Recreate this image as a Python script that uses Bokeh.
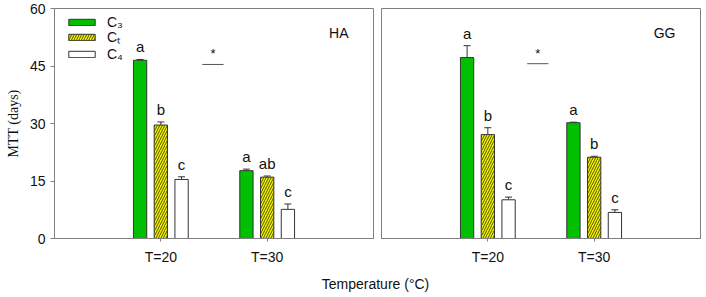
from bokeh.plotting import figure
from bokeh.layouts import row, column
from bokeh.models import (ColumnDataSource, FixedTicker, Legend, LegendItem,
                          Whisker, Label, Range1d)
from bokeh.core.properties import value
from bokeh.embed import file_html
from bokeh.resources import INLINE

groups = ["T=20", "T=30"]
group_x = [1, 2]
series = ["C₃", "Cₜ", "C₄"]
offsets = [-0.195, 0.0, 0.195]

# HA panel
ha_means = {"C₃": [46.5, 17.7], "Cₜ": [29.6, 16.0], "C₄": [15.4, 7.6]}
ha_errs = {"C₃": [0.2, 0.4], "Cₜ": [0.8, 0.3], "C₄": [0.7, 1.4]}
ha_letters = {"C₃": ["a", "a"], "Cₜ": ["b", "ab"], "C₄": ["c", "c"]}
ha_sig_x = [1.49]
ha_sig_y = [45.4]

# GG panel
gg_means = {"C₃": [47.2, 30.2], "Cₜ": [27.1, 21.2], "C₄": [10.1, 6.8]}
gg_errs = {"C₃": [3.1, 0.15], "Cₜ": [1.8, 0.25], "C₄": [0.7, 0.7]}
gg_letters = {"C₃": ["a", "a"], "Cₜ": ["b", "b"], "C₄": ["c", "c"]}
gg_sig_x = [1.47]
gg_sig_y = [45.6]

y_ticks = [0, 15, 30, 45, 60]

styles = {
    "C₃": dict(fill_color="#00c000", hatch_pattern=None),
    "Cₜ": dict(fill_color="#f2f200", hatch_pattern="right_diagonal_line"),
    "C₄": dict(fill_color="#ffffff", hatch_pattern=None),
}

FONT = "Liberation Sans"
AXIS_GRAY = "#7f7f7f"
LEGEND_ROWS_FROM_BOTTOM = [208, 192, 176]


def make_panel(means, errs, letters, sig_x, sig_y, tag, left):
    p = figure(width=377 if left else 329, height=270,
               x_range=Range1d(0, 3), y_range=Range1d(0, 60),
               output_backend="svg", toolbar_location=None,
               min_border_left=54 if left else 4,
               min_border_right=4 if left else 6,
               min_border_top=8, min_border_bottom=32)
    p.xgrid.visible = False
    p.ygrid.visible = False
    p.outline_line_color = AXIS_GRAY
    p.outline_line_width = 1
    p.background_fill_color = "white"
    p.border_fill_color = "white"

    renderers = {}
    for s, off in zip(series, offsets):
        xs = [g + off for g in group_x]
        tops = means[s]
        upper = [m + e for m, e in zip(tops, errs[s])]
        src = ColumnDataSource(dict(x=xs, top=tops, upper=upper,
                                    lower=tops, lab=letters[s]))
        st = styles[s]
        kw = dict(x="x", top="top", bottom=0, width=0.125, source=src,
                  fill_color=st["fill_color"], line_color="#333333",
                  line_width=1)
        if st["hatch_pattern"]:
            kw.update(hatch_pattern=st["hatch_pattern"], hatch_color="#555500",
                      hatch_scale=5, hatch_weight=1)
        r = p.vbar(**kw)
        renderers[s] = r
        w = Whisker(base="x", upper="upper", lower="lower", source=src,
                    line_color="#333333", line_width=1)
        w.upper_head.size = 7
        w.upper_head.line_color = "#333333"
        w.lower_head.size = 0
        w.lower_head.line_alpha = 0
        p.add_layout(w)
        p.text(x="x", y="upper", text="lab", source=src,
               text_align="center", text_baseline="bottom", y_offset=-4,
               text_font=value(FONT), text_font_size="15px",
               text_color="#111111")

    # significance marker
    sig = ColumnDataSource(dict(x=sig_x, y=sig_y, s=["*"]))
    p.segment(x0=[sig_x[0] - 0.1], y0=sig_y, x1=[sig_x[0] + 0.1], y1=sig_y,
              line_color="#555555", line_width=1)
    p.text(x="x", y="y", text="s", source=sig, text_align="center",
           text_baseline="bottom", y_offset=-3, text_font=value(FONT),
           text_font_size="13px", text_color="#111111")

    p.add_layout(Label(x=3, y=60, x_offset=-25, y_offset=-32, text=tag,
                       text_align="right", text_font=FONT,
                       text_font_size="14px", text_color="#111111"))

    # axes
    p.xaxis.ticker = FixedTicker(ticks=group_x)
    p.xaxis.major_label_overrides = {g: lab for g, lab in zip(group_x, groups)}
    p.xaxis.minor_tick_line_color = None
    p.xaxis.major_tick_in = 0
    p.xaxis.major_tick_out = 3
    p.xaxis.axis_line_color = AXIS_GRAY
    p.xaxis.major_tick_line_color = AXIS_GRAY
    p.xaxis.major_label_text_font = FONT
    p.xaxis.major_label_text_font_size = "14px"
    p.xaxis.major_label_text_color = "#111111"
    p.xaxis.major_label_standoff = 7

    if left:
        p.yaxis.ticker = FixedTicker(ticks=y_ticks)
        p.yaxis.minor_tick_line_color = None
        p.yaxis.major_tick_in = 0
        p.yaxis.major_tick_out = 4
        p.yaxis.axis_line_color = AXIS_GRAY
        p.yaxis.major_tick_line_color = AXIS_GRAY
        p.yaxis.major_label_text_font = FONT
        p.yaxis.major_label_text_font_size = "14px"
        p.yaxis.major_label_text_color = "#111111"
        p.yaxis.major_label_standoff = 5
        p.yaxis.axis_label = "MTT (days)"
        p.yaxis.axis_label_text_font = "Liberation Serif"
        p.yaxis.axis_label_text_font_style = "normal"
        p.yaxis.axis_label_text_font_size = "14px"
        p.yaxis.axis_label_text_color = "#111111"
        p.yaxis.axis_label_standoff = 6

        for s, ly in zip(series, LEGEND_ROWS_FROM_BOTTOM):
            legend = Legend(items=[LegendItem(label=s, renderers=[renderers[s]])],
                            location=(11, ly), orientation="vertical",
                            glyph_width=33, glyph_height=8, label_height=12,
                            spacing=0, padding=0, margin=0,
                            label_standoff=9, border_line_color=None,
                            background_fill_alpha=0,
                            label_text_font=FONT, label_text_font_size="14px",
                            label_text_color="#111111")
            p.add_layout(legend)
    else:
        p.yaxis.visible = False
    return p


p_ha = make_panel(ha_means, ha_errs, ha_letters, ha_sig_x, ha_sig_y, "HA", True)
p_gg = make_panel(gg_means, gg_errs, gg_letters, gg_sig_x, gg_sig_y, "GG", False)

p_t = figure(width=706, height=27, x_range=Range1d(0, 706), y_range=Range1d(0, 27),
             output_backend="svg", toolbar_location=None,
             min_border=0)
p_t.axis.visible = False
p_t.grid.visible = False
p_t.outline_line_color = None
p_t.add_layout(Label(x=375, y=14, text="Temperature (°C)", text_align="center",
                     text_baseline="middle", text_font=FONT,
                     text_font_size="14px", text_color="#111111"))

layout = column(row(p_ha, p_gg), p_t)

with open("out.html", "w") as f:
    f.write(file_html(layout, INLINE))
